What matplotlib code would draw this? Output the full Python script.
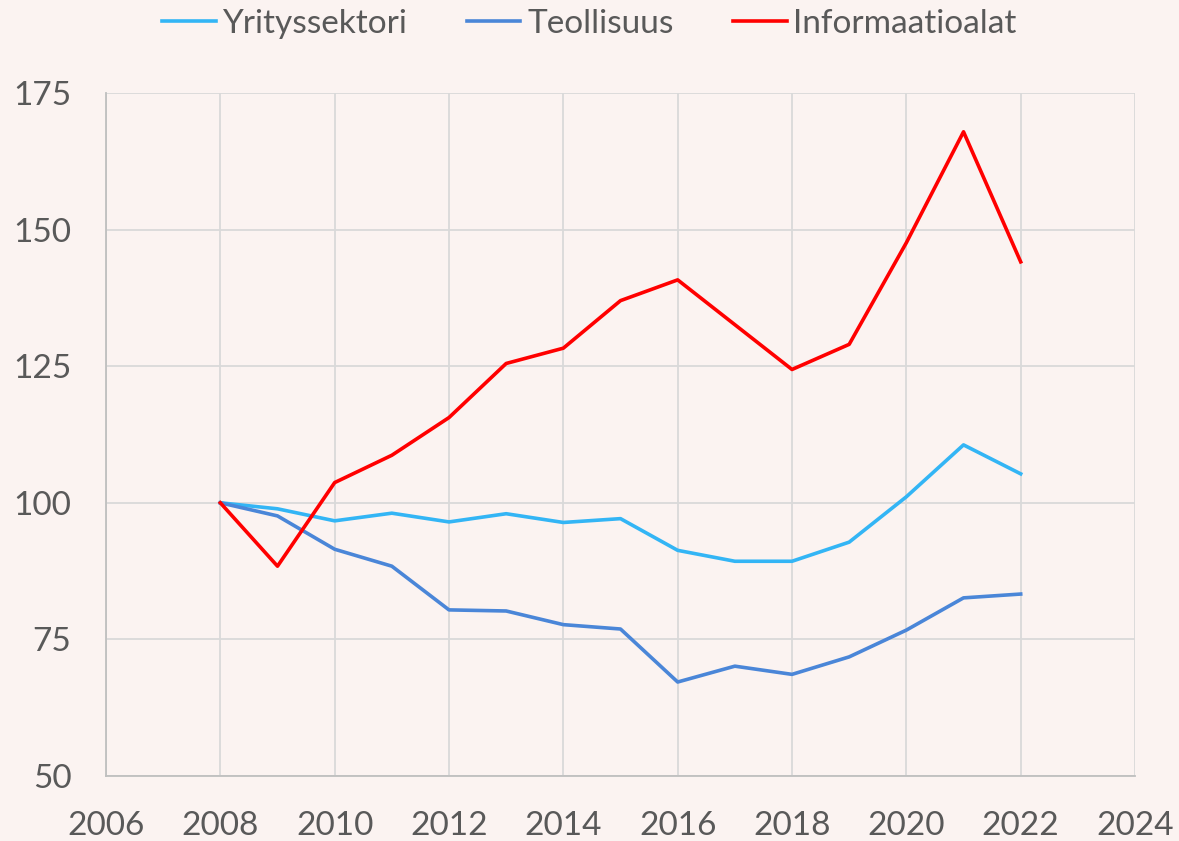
import matplotlib
matplotlib.use("Agg")
import matplotlib.pyplot as plt

# Index, 2008 = 100
years = list(range(2008, 2023))
yrityssektori = [100, 98.9, 96.7, 98.1, 96.5, 98.0, 96.4, 97.1, 91.3, 89.3, 89.3, 92.8, 101.1, 110.6, 105.3]
teollisuus = [100, 97.6, 91.5, 88.4, 80.4, 80.2, 77.7, 76.9, 67.2, 70.1, 68.6, 71.8, 76.7, 82.6, 83.3]
informaatioalat = [100, 88.4, 103.7, 108.7, 115.6, 125.5, 128.3, 137.0, 140.8, 132.6, 124.4, 129.0, 147.6, 167.9, 144.1]

series = [
    ("Yrityssektori", yrityssektori, "#33B5F5"),
    ("Teollisuus", teollisuus, "#4A86D8"),
    ("Informaatioalat", informaatioalat, "#FF0000"),
]

bg = "#FBF3F1"
txt = "#595959"
grid = "#D9D9D9"

plt.rcParams["font.family"] = ["Lato", "DejaVu Sans"]

fig = plt.figure(figsize=(11.79, 8.41), dpi=100, facecolor=bg)
ax = fig.add_axes([0.0899, 0.0773, 0.8728, 0.8121])
ax.set_facecolor(bg)

for name, vals, col in series:
    ax.plot(years, vals, color=col, lw=2.6, label=name, solid_joinstyle="round")

ax.set_xlim(2006, 2024)
ax.set_ylim(50, 175)
ax.set_xticks(range(2006, 2025, 2))
ax.set_yticks(range(50, 176, 25))
ax.grid(True, color=grid, lw=1.3)
ax.set_axisbelow(True)
for s in ["top", "right"]:
    ax.spines[s].set_visible(False)
for s in ["left", "bottom"]:
    ax.spines[s].set_color("#BFBFBF")
    ax.spines[s].set_linewidth(1.3)
ax.tick_params(length=0, labelsize=24, colors=txt)
ax.tick_params(axis="x", pad=25)
ax.tick_params(axis="y", pad=25)

leg = fig.legend(loc="upper center", bbox_to_anchor=(0.5, 1.025), ncol=3, frameon=False,
                 fontsize=24, handlelength=1.6, handletextpad=0.2, columnspacing=1.8)
for t in leg.get_texts():
    t.set_color(txt)

fig.savefig("out.png", dpi=100, facecolor=bg)
